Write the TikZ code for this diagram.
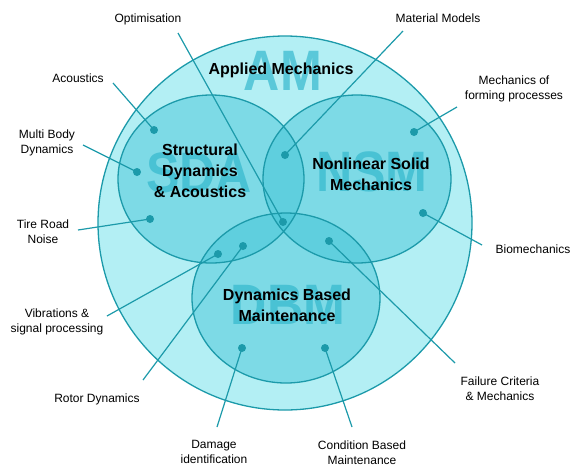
\documentclass[tikz,border=0pt]{standalone}
\usepackage{fontspec}
\setmainfont{Liberation Sans}
\definecolor{bigfill}{HTML}{B3EFF4}
\definecolor{innerfill}{HTML}{3CC2D5}
\definecolor{tealline}{HTML}{1C9AAA}
\definecolor{wmcol}{HTML}{3DBCD0}
\begin{document}
\begin{tikzpicture}[x=1pt,y=-1pt,
  ring/.style={draw=tealline, line width=1.3pt},
  wmtext/.style={font=\bfseries\fontsize{57}{57}\selectfont, text=wmcol, xscale=0.88, inner sep=0pt},
  title/.style={font=\bfseries\fontsize{16}{21}\selectfont, align=center, inner sep=0pt},
  lbl/.style={font=\fontsize{12}{15}\selectfont, align=center, inner sep=0pt},
  conn/.style={draw=tealline, line width=1.2pt},
  dot/.style={circle, fill=tealline, minimum size=8pt, inner sep=0pt}]
\useasboundingbox (0,0) rectangle (571,467);
\fill[white] (0,0) rectangle (571,467);
% outer circle
\fill[bigfill] (285,223) circle [radius=187pt];
\node[wmtext, text opacity=0.75] (wmAM) at (283,71) {AM};
% inner ellipses (fills)
\fill[innerfill, fill opacity=0.45] (211,179) circle [x radius=93pt, y radius=84pt];
\fill[innerfill, fill opacity=0.45] (357,179) circle [x radius=94pt, y radius=84pt];
\fill[innerfill, fill opacity=0.45] (286,298) circle [x radius=94pt, y radius=85pt];
% watermarks
\node[wmtext, text opacity=0.8] (wmSDA) at (199,173) {SDA};
\node[wmtext, text opacity=0.8] (wmNSM) at (372,172) {NSM};
\node[wmtext, text opacity=0.8] (wmDBM) at (288,305) {DBM};
% outlines
\draw[ring] (285,223) circle [radius=187pt];
\draw[ring] (211,179) circle [x radius=93pt, y radius=84pt];
\draw[ring] (357,179) circle [x radius=94pt, y radius=84pt];
\draw[ring] (286,298) circle [x radius=94pt, y radius=85pt];
% labels
\node[lbl] (lOpt) at (148,19) {Optimisation};
\node[lbl] (lMat) at (438,18) {Material Models};
\node[lbl] (lAco) at (78,78) {Acoustics};
\node[lbl] (lMBD) at (47,143) {Multi Body\\Dynamics};
\node[lbl] (lTire) at (43,232) {Tire Road\\Noise};
\node[lbl] (lVib) at (57,322) {Vibrations \&\\signal processing};
\node[lbl] (lRot) at (97,399) {Rotor Dynamics};
\node[lbl] (lDam) at (214,452) {Damage\\identification};
\node[lbl] (lCond) at (362,453) {Condition Based\\Maintenance};
\node[lbl] (lFail) at (500,389) {Failure Criteria\\\& Mechanics};
\node[lbl] (lBio) at (533,249) {Biomechanics};
\node[lbl] (lForm) at (514,89) {Mechanics of\\forming processes};
% connector free ends
\coordinate (cOpt) at (178,33);
\coordinate (cMat) at (403,31);
\coordinate (cAco) at (113,83);
\coordinate (cMBD) at (83,145);
\coordinate (cTire) at (78,230);
\coordinate (cVib) at (107,316);
\coordinate (cRot) at (143,380);
\coordinate (cDam) at (217,427);
\coordinate (cCond) at (352,427);
\coordinate (cFail) at (455,363);
\coordinate (cBio) at (482,245);
\coordinate (cForm) at (457,107);
% dots
\node[dot] (dOpt) at (283,222) {};
\node[dot] (dMat) at (285,155) {};
\node[dot] (dAco) at (154,130) {};
\node[dot] (dMBD) at (137,172) {};
\node[dot] (dTire) at (150,219) {};
\node[dot] (dVib) at (218,254) {};
\node[dot] (dRot) at (243,246) {};
\node[dot] (dDam) at (242,348) {};
\node[dot] (dCond) at (325,348) {};
\node[dot] (dFail) at (329,241) {};
\node[dot] (dBio) at (423,213) {};
\node[dot] (dForm) at (414,132) {};
% connectors
\foreach \n in {Opt,Mat,Aco,MBD,Tire,Vib,Rot,Dam,Cond,Fail,Bio,Form}
  \draw[conn] (c\n) -- (d\n.center);
% titles
\node[title] (tAM) at (281,70) {Applied Mechanics};
\node[title] (tSDA) at (200,171) {Structural\\Dynamics\\\& Acoustics};
\node[title] (tNSM) at (371,174) {Nonlinear Solid\\Mechanics};
\node[title] (tDBM) at (287,305) {Dynamics Based\\Maintenance};
\end{tikzpicture}
\end{document}
